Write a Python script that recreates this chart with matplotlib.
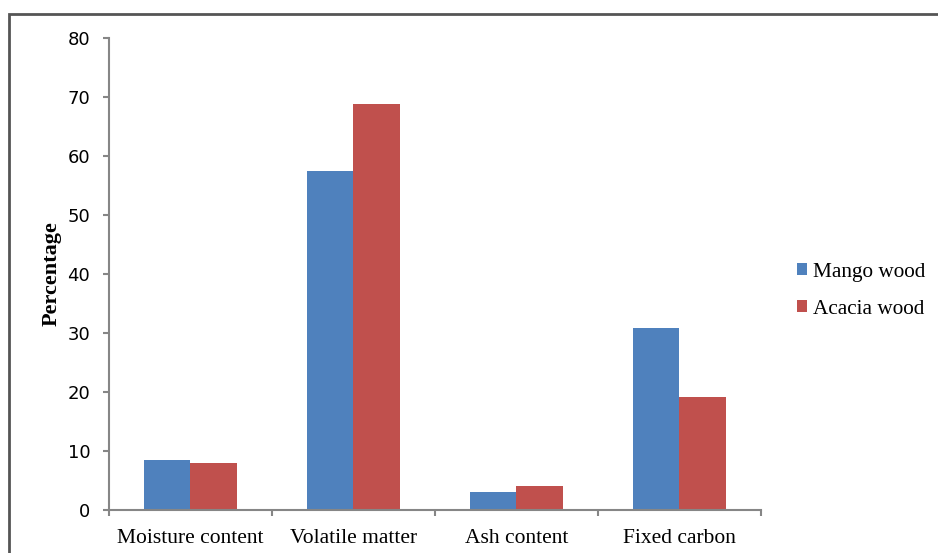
import numpy as np
import matplotlib
matplotlib.use('Agg')
import matplotlib.pyplot as plt
from matplotlib.patches import Rectangle

categories = ['Moisture content', 'Volatile matter', 'Ash content', 'Fixed carbon']
mango_wood = [8.4, 57.4, 3.1, 30.9]
acacia_wood = [7.9, 68.8, 4.0, 19.2]
y_ticks = [0, 10, 20, 30, 40, 50, 60, 70, 80]

blue = '#4f81bd'
red = '#c0504d'
axis_gray = '#868686'

fig = plt.figure(figsize=(9.38, 5.53), dpi=100)
ax = fig.add_axes([0.1162, 0.0778, 0.6951, 0.8535])

x = np.arange(len(categories))
w = 0.285
ax.bar(x - w / 2, mango_wood, w, color=blue, label='Mango wood')
ax.bar(x + w / 2, acacia_wood, w, color=red, label='Acacia wood')

ax.set_xlim(-0.5, len(categories) - 0.5)
ax.set_ylim(0, 80)
ax.set_yticks(y_ticks)
ax.set_yticklabels([str(t) for t in y_ticks], fontsize=13, family='DejaVu Sans')
ax.set_xticks(x)
ax.set_xticklabels(categories, fontsize=15.5, family='Liberation Serif')
ax.tick_params(axis='x', length=0, pad=14)
ax.set_xticks(np.arange(-0.5, len(categories) + 0.5, 1), minor=True)
ax.tick_params(axis='x', which='minor', length=4.5, color=axis_gray, width=1.5)
ax.tick_params(axis='y', length=4.5, color=axis_gray, width=1.5, pad=9)

for s in ['top', 'right']:
    ax.spines[s].set_visible(False)
for s in ['left', 'bottom']:
    ax.spines[s].set_color(axis_gray)
    ax.spines[s].set_linewidth(1.5)

ax.set_ylabel('Percentage', fontsize=16, family='Liberation Serif', fontweight='bold', labelpad=4)

leg = fig.legend(loc='center left', bbox_to_anchor=(0.829, 0.474), frameon=False,
                 prop={'family': 'Liberation Serif', 'size': 15.3},
                 handlelength=0.5, handleheight=0.5, handletextpad=0.25, labelspacing=0.85)

# outer frame of the figure (top and left edges visible)
frame = Rectangle((9 / 938, -0.2), 1.5, 0.2 + 1 - 13.5 / 553, transform=fig.transFigure,
                  fill=False, edgecolor='#555555', linewidth=2, clip_on=False)
fig.patches.append(frame)

fig.savefig('out.png', dpi=100)
